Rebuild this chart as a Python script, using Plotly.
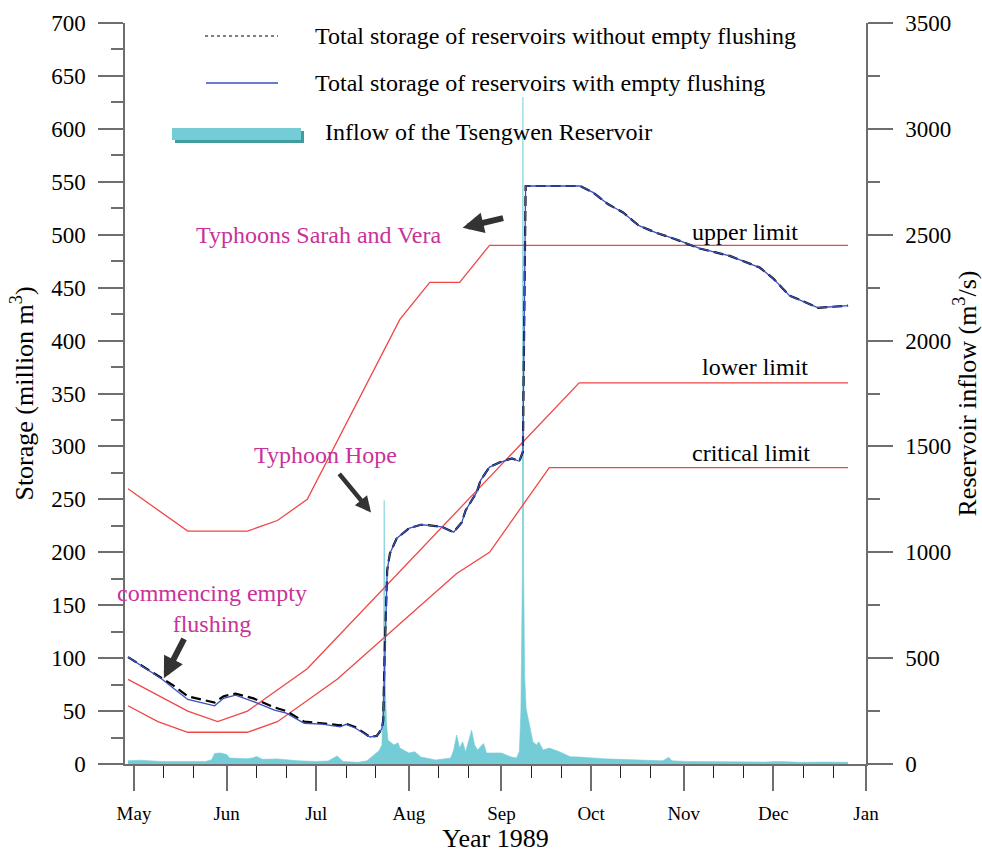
import plotly.graph_objects as go

# ---------------- data ----------------
# Total storage of reservoirs with empty flushing (million m3)
flush_dates = [
    "1989-04-29", "1989-05-10", "1989-05-14", "1989-05-19", "1989-05-28",
    "1989-05-31", "1989-06-04", "1989-06-10", "1989-06-17", "1989-06-21",
    "1989-06-27", "1989-07-03", "1989-07-09", "1989-07-11", "1989-07-14",
    "1989-07-19", "1989-07-21 06:00", "1989-07-22 22:00", "1989-07-23 10:00",
    "1989-07-23 22:00", "1989-07-24 18:00", "1989-07-25 16:00", "1989-07-27 22:00",
    "1989-08-01", "1989-08-05", "1989-08-08", "1989-08-12", "1989-08-16",
    "1989-08-18 18:00", "1989-08-20", "1989-08-23 18:00", "1989-08-25",
    "1989-08-28", "1989-08-31 12:00", "1989-09-04 12:00", "1989-09-07",
    "1989-09-08 04:00", "1989-09-09 02:00", "1989-09-27 06:00", "1989-10-01 14:00",
    "1989-10-06 14:00", "1989-10-11 16:00", "1989-10-17", "1989-10-22 16:00",
    "1989-10-29", "1989-11-06 08:00", "1989-11-16 10:00", "1989-11-26 10:00",
    "1989-12-01", "1989-12-06 10:00", "1989-12-11", "1989-12-16", "1989-12-26",
]
flush_storage = [
    101, 81, 72, 61, 55,
    62, 65, 59, 51, 48,
    38.5, 37.7, 35, 37.5, 34,
    25.5, 26.5, 33, 41,
    105, 183, 199, 213,
    222.6, 226, 225.5, 224, 219,
    228.5, 239.6, 257, 268,
    280.5, 285, 288.7, 286,
    295, 546, 546, 540,
    529, 521, 508.5, 502,
    496, 487, 480, 469,
    458.5, 442.5, 437, 431, 433,
]

# Total storage of reservoirs without empty flushing (million m3)
noflush_dates = [
    "1989-04-29", "1989-05-10", "1989-05-14", "1989-05-19", "1989-05-28",
    "1989-05-31", "1989-06-04", "1989-06-10", "1989-06-17", "1989-06-21",
    "1989-06-27", "1989-07-03", "1989-07-09", "1989-07-11", "1989-07-14",
] + flush_dates[15:]
noflush_storage = [
    101, 81, 74.5, 64, 58,
    64, 66.5, 62, 53.5, 50,
    40, 38.5, 36.5, 38, 35,
] + flush_storage[15:]

# Rule-curve limits (million m3)
upper_dates = ["1989-04-29", "1989-05-19", "1989-06-08", "1989-06-18", "1989-06-28",
               "1989-07-29", "1989-08-08", "1989-08-18", "1989-08-28", "1989-12-26"]
upper_vals = [260, 220, 220, 230, 250, 420, 455, 455, 490, 490]

lower_dates = ["1989-04-29", "1989-05-19", "1989-05-29", "1989-06-08", "1989-06-28",
               "1989-09-27", "1989-12-26"]
lower_vals = [80, 50, 40, 50, 90, 360, 360]

critical_dates = ["1989-04-29", "1989-05-09", "1989-05-19", "1989-06-08", "1989-06-18",
                  "1989-07-08", "1989-08-17", "1989-08-28", "1989-09-17", "1989-12-26"]
critical_vals = [55, 40, 30, 30, 40, 80, 180, 200, 280, 280]

# Inflow of the Tsengwen Reservoir (m3/s)
inflow_dates = [
    "1989-04-29", "1989-05-03", "1989-05-10", "1989-05-20", "1989-05-25",
    "1989-05-27", "1989-05-28", "1989-05-30", "1989-06-01", "1989-06-02",
    "1989-06-08", "1989-06-10", "1989-06-11", "1989-06-13", "1989-06-18",
    "1989-06-25", "1989-07-01", "1989-07-05", "1989-07-08", "1989-07-10",
    "1989-07-15", "1989-07-18", "1989-07-20", "1989-07-22", "1989-07-23 00:00",
    "1989-07-23 12:00", "1989-07-23 18:00", "1989-07-24 00:00", "1989-07-24 12:00",
    "1989-07-25", "1989-07-27", "1989-07-28 10:00", "1989-07-29", "1989-08-01",
    "1989-08-03", "1989-08-05", "1989-08-10", "1989-08-15", "1989-08-16",
    "1989-08-17", "1989-08-18", "1989-08-19", "1989-08-20", "1989-08-22",
    "1989-08-23", "1989-08-24", "1989-08-26", "1989-08-27", "1989-09-01",
    "1989-09-04", "1989-09-06", "1989-09-07 00:00", "1989-09-07 12:00",
    "1989-09-08 00:00", "1989-09-08 04:00", "1989-09-08 10:00", "1989-09-08 18:00",
    "1989-09-09 06:00", "1989-09-10 12:00", "1989-09-11 12:00", "1989-09-12 18:00",
    "1989-09-13 12:00", "1989-09-14 22:00", "1989-09-17", "1989-09-20 14:00",
    "1989-09-24", "1989-09-27", "1989-10-01", "1989-10-05", "1989-10-10",
    "1989-10-15", "1989-10-20", "1989-10-25", "1989-10-27", "1989-10-28",
    "1989-11-02", "1989-11-10", "1989-11-20", "1989-11-28", "1989-12-03",
    "1989-12-10", "1989-12-18", "1989-12-26",
]
inflow_vals = [
    15, 18, 12, 10, 12,
    20, 50, 52, 45, 28,
    25, 30, 36, 22, 24,
    15, 12, 14, 38, 12,
    8, 15, 40, 63, 90,
    400, 1245, 420, 200,
    113, 90, 100, 75, 52,
    58, 33, 19, 28, 66,
    137, 75, 105, 57, 160,
    90, 66, 97, 52, 52,
    34, 28, 60, 250,
    900, 3150, 900, 420,
    260, 176, 105, 90,
    105, 66, 75, 57,
    34, 33, 28, 25, 22,
    20, 18, 15, 32, 15,
    12, 11, 10, 9, 12,
    8, 9, 8,
]

month_ticks = ["1989-05-01", "1989-06-01", "1989-07-01", "1989-08-01", "1989-09-01",
               "1989-10-01", "1989-11-01", "1989-12-01", "1990-01-01"]
month_labels = ["May", "Jun", "Jul", "Aug", "Sep", "Oct", "Nov", "Dec", "Jan"]
minor_ticks = [f"1989-{m:02d}-{d}" for m in range(5, 13) for d in (11, 21)]

# ---------------- styling ----------------
W, H = 982, 853
ML, MR, MT, MB = 125, 116, 23, 89
FONT = "Liberation Serif"
AXIS = "#6e6e6e"
RED = "#f04646"
BLUE = "#3b4fbf"
CYAN = "#74cdd6"
MAGENTA = "#c8329a"


def px(x):
    """horizontal pixel position -> paper fraction"""
    return (x - ML) / (W - ML - MR)


def py(y):
    """vertical pixel position -> paper fraction"""
    return (H - MB - y) / (H - MT - MB)


fig = go.Figure()

# inflow on the base (right-hand) axis so it sits beneath everything else
fig.add_trace(go.Scatter(
    x=inflow_dates, y=inflow_vals, yaxis="y", mode="lines",
    fill="tozeroy", fillcolor=CYAN, line=dict(color=CYAN, width=0.6),
    showlegend=False, hoverinfo="skip"))

for d, v in ((upper_dates, upper_vals), (lower_dates, lower_vals),
             (critical_dates, critical_vals)):
    fig.add_trace(go.Scatter(x=d, y=v, yaxis="y2", mode="lines",
                             line=dict(color=RED, width=1.3), showlegend=False))

fig.add_trace(go.Scatter(x=noflush_dates, y=noflush_storage, yaxis="y2", mode="lines",
                         line=dict(color="black", width=2.2, dash="10px,5px"),
                         showlegend=False))
fig.add_trace(go.Scatter(x=flush_dates, y=flush_storage, yaxis="y2", mode="lines",
                         line=dict(color=BLUE, width=1.3), showlegend=False))

axis_common = dict(
    showline=True, linecolor=AXIS, linewidth=1.5, ticks="outside", ticklen=25,
    tickcolor=AXIS, tickwidth=1.5, showgrid=False, zeroline=False,
    tickfont=dict(family=FONT, size=23, color="black"), automargin=False,
)

fig.update_layout(
    width=W, height=H, margin=dict(l=ML, r=MR, t=MT, b=MB),
    paper_bgcolor="white", plot_bgcolor="white",
    font=dict(family=FONT, color="black"),
    showlegend=False,
    xaxis=dict(
        type="date", range=["1989-04-28", "1990-01-01"],
        tickmode="array", tickvals=month_ticks, ticktext=month_labels,
        showline=True, linecolor=AXIS, linewidth=1.5, ticks="outside", ticklen=25,
        tickcolor=AXIS, tickwidth=1.5, showgrid=False, zeroline=False,
        tickfont=dict(family=FONT, size=19, color="black"), ticklabelstandoff=6,
        minor=dict(tickvals=minor_ticks, ticks="outside", ticklen=12,
                   tickcolor="#222222", tickwidth=1.3),
        title=dict(text="Year 1989", font=dict(family=FONT, size=26), standoff=2),
        automargin=False,
    ),
    yaxis=dict(
        side="right", range=[0, 3500], tickmode="linear", tick0=0, dtick=500,
        minor=dict(ticks="outside", ticklen=12, dtick=250, tickcolor=AXIS, tickwidth=1.5),
        ticklabelstandoff=8,
        title=dict(text="Reservoir inflow (m<sup>3</sup>/s)",
                   font=dict(family=FONT, size=26), standoff=4),
        **axis_common,
    ),
    yaxis2=dict(
        side="left", overlaying="y", range=[0, 700], tickmode="linear", tick0=0, dtick=50,
        minor=dict(ticks="outside", ticklen=12, dtick=25, tickcolor=AXIS, tickwidth=1.5),
        ticklabelstandoff=8,
        title=dict(text="Storage (million m<sup>3</sup>)",
                   font=dict(family=FONT, size=26), standoff=10),
        **axis_common,
    ),
)

# ---------------- legend keys ----------------
shapes = [
    dict(type="line", xref="paper", yref="paper", x0=px(205), x1=px(278), y0=py(36), y1=py(36),
         line=dict(color="black", width=1, dash="dot")),
    dict(type="line", xref="paper", yref="paper", x0=px(206), x1=px(278), y0=py(83), y1=py(83),
         line=dict(color=BLUE, width=1.3)),
    dict(type="rect", xref="paper", yref="paper", x0=px(175), x1=px(304), y0=py(143), y1=py(131),
         line=dict(width=0), fillcolor="#3f9d9d"),
    dict(type="rect", xref="paper", yref="paper", x0=px(172), x1=px(301), y0=py(140), y1=py(128),
         line=dict(width=0), fillcolor=CYAN),
]
fig.update_layout(shapes=shapes)

legend_text = [
    ("Total storage of reservoirs without empty flushing", 313, 36),
    ("Total storage of reservoirs with empty flushing", 313, 83),
    ("Inflow of the Tsengwen Reservoir", 323, 132),
]
for text, x, y in legend_text:
    fig.add_annotation(text=text, xref="paper", yref="paper", x=px(x), y=py(y),
                       xanchor="left", yanchor="middle", showarrow=False,
                       font=dict(family=FONT, size=24, color="black"))

# ---------------- labels and arrows ----------------
labels = [
    ("Typhoons Sarah and Vera", "1989-07-02", 500, MAGENTA),
    ("Typhoon Hope", "1989-07-04", 291.5, MAGENTA),
    ("commencing empty<br>flushing", "1989-05-27", 147, MAGENTA),
    ("upper limit", "1989-11-21 12:00", 503, "black"),
    ("lower limit", "1989-11-25", 375.5, "black"),
    ("critical limit", "1989-11-23 12:00", 294, "black"),
]
for text, x, y, color in labels:
    fig.add_annotation(text=text, x=x, y=y, xref="x", yref="y2", showarrow=False,
                       xanchor="center", yanchor="middle",
                       font=dict(family=FONT, size=24, color=color))

arrows = [
    ("1989-08-19", 506.6, 42, -10, 6),
    ("1989-07-19 08:00", 237.7, -33, -40, 4.5),
    ("1989-05-11", 81, 21, -41, 6),
]
for x, y, ax, ay, w in arrows:
    fig.add_annotation(text="", x=x, y=y, xref="x", yref="y2", ax=ax, ay=ay,
                       showarrow=True, arrowhead=2, arrowsize=0.7, arrowwidth=w,
                       arrowcolor="#333333")

fig.write_html("out.html")
